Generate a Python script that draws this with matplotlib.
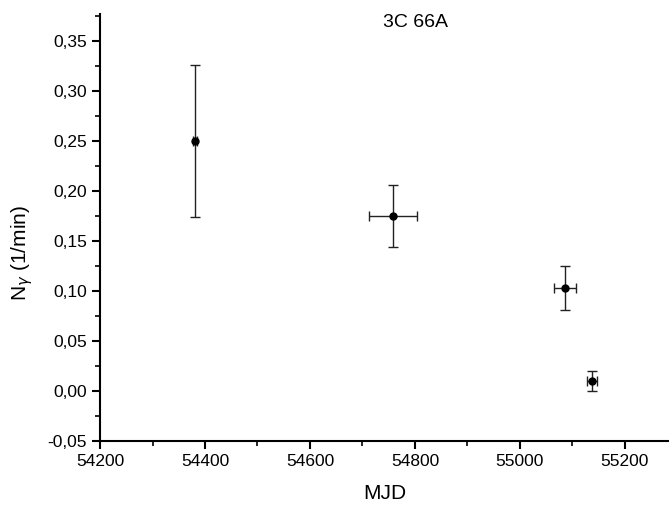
import matplotlib.pyplot as plt
from matplotlib.ticker import MultipleLocator, FuncFormatter

plt.rcParams['font.family'] = ['Liberation Sans', 'DejaVu Sans']

# ---- data ----
mjd = [54381, 54758, 55086, 55137]
mjd_err = [3, 46, 21, 10]
rate = [0.250, 0.175, 0.103, 0.010]
rate_err = [0.076, 0.031, 0.022, 0.010]

fig = plt.figure(figsize=(6.69, 5.07), dpi=100)
ax = fig.add_axes([0.1495, 0.130, 0.8505, 0.842])

ax.errorbar(mjd, rate, xerr=mjd_err, yerr=rate_err, fmt='o', color='black',
            ms=5, ecolor='#222222', elinewidth=1, capsize=3.5, capthick=1)

ax.set_xlim(54200, 55284)
ax.set_ylim(-0.05, 0.377)
ax.xaxis.set_major_locator(MultipleLocator(200))
ax.xaxis.set_minor_locator(MultipleLocator(100))
ax.yaxis.set_major_locator(MultipleLocator(0.05))
ax.yaxis.set_minor_locator(MultipleLocator(0.025))
ax.yaxis.set_major_formatter(FuncFormatter(lambda v, p: f'{v:.2f}'.replace('.', ',')))

for s in ['top', 'right']:
    ax.spines[s].set_visible(False)
for s in ['left', 'bottom']:
    ax.spines[s].set_linewidth(1.5)
ax.tick_params(which='major', direction='out', length=6, width=1.5, labelsize=12.5)
ax.tick_params(which='minor', direction='out', length=3.5, width=1.2)

ax.set_xlabel('MJD', fontsize=15)
ax.xaxis.set_label_coords(0.5, -0.1)
ax.set_ylabel(r'N$_{\gamma}$ (1/min)', fontsize=15)
ax.yaxis.set_label_coords(-0.115, 0.44)
ax.text(0.555, 1.0, '3C 66A', transform=ax.transAxes, ha='center', va='top', fontsize=14)

fig.savefig('out.png', dpi=100)
